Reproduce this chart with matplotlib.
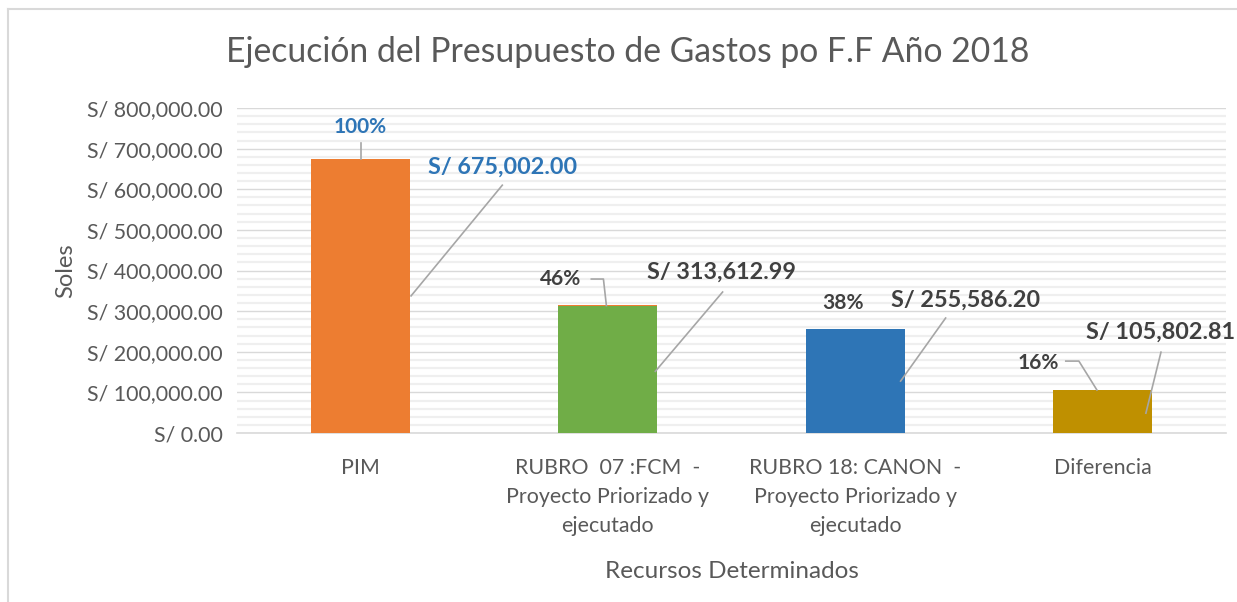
import numpy as np
import matplotlib.pyplot as plt
from matplotlib.ticker import FuncFormatter, MultipleLocator
from matplotlib.lines import Line2D

plt.rcParams['font.family'] = ['Lato', 'DejaVu Sans']

categories = ['PIM',
              'RUBRO  07 :FCM  -\nProyecto Priorizado y\nejecutado',
              'RUBRO 18: CANON  -\nProyecto Priorizado y\nejecutado',
              'Diferencia']
values = [675002.00, 313612.99, 255586.20, 105802.81]
percents = ['100%', '46%', '38%', '16%']
bar_colors = ['#ED7D31', '#70AD47', '#2E75B6', '#BF9000']

W, H = 1237, 602
fig = plt.figure(figsize=(W / 100, H / 100), dpi=100)
ax = fig.add_axes([237 / W, 1 - 433 / H, (1226 - 237) / W, (433 - 108) / H])

x = np.arange(len(categories))
ax.bar(x, values, width=0.4, color=bar_colors, zorder=3)
# thin orange series stacked on top (percent series)
ax.bar(x[1:3], [1200, 1200], bottom=values[1:3], width=0.4, color='#ED7D31', zorder=3)

ax.set_xlim(-0.5, len(categories) - 0.5)
ax.set_ylim(0, 800000)
ax.yaxis.set_major_locator(MultipleLocator(100000))
ax.yaxis.set_minor_locator(MultipleLocator(20000))
ax.yaxis.set_major_formatter(FuncFormatter(lambda v, p: f'S/ {v:,.2f}'))
ax.grid(which='major', axis='y', color='#d9d9d9', lw=1.0, zorder=0)
ax.grid(which='minor', axis='y', color='#efefef', lw=1.6, zorder=0)
ax.set_axisbelow(True)
for s in ['top', 'right', 'left']:
    ax.spines[s].set_visible(False)
ax.spines['bottom'].set_color('#d9d9d9')
ax.spines['bottom'].set_linewidth(1.2)
ax.tick_params(axis='both', which='both', length=0, colors='#595959', labelsize=15.4)
ax.tick_params(axis='y', pad=10)
ax.tick_params(axis='x', pad=18)
ax.set_xticks(x)
ax.set_xticklabels(categories, linespacing=1.55)

ax.set_xlabel('Recursos Determinados', fontsize=17.5, color='#595959', labelpad=18)
ax.set_ylabel('Soles', fontsize=17, color='#595959', labelpad=8)
fig.text(628 / W, 1 - 52 / H, 'Ejecución del Presupuesto de Gastos po F.F Año 2018',
         ha='center', va='center', fontsize=24.3, color='#595959')

# data labels: offsets from bar centre (x) and absolute y, in data coords
pct_pos = [(0.0, 753000), (-0.19, 379000), (-0.05, 320000), (-0.26, 172000)]
val_pos = [(0.573, 655000), (0.46, 396000), (0.447, 327000), (0.237, 249000)]
lbl_color = ['#2E75B6', '#404040', '#404040', '#404040']
for i, v in enumerate(values):
    px, py = pct_pos[i]
    ax.text(i + px, py, percents[i], ha='center', va='center', fontsize=15,
            fontweight='bold', color=lbl_color[i], zorder=5)
    vx, vy = val_pos[i]
    ax.text(i + vx, vy, f'S/ {v:,.2f}', ha='center', va='center', fontsize=16.8,
            fontweight='bold', color=lbl_color[i], zorder=5, clip_on=False)

lc = '#a6a6a6'
# leader lines for percent labels
ax.add_line(Line2D([0, 0], [714000, values[0]], color=lc, lw=1.2, zorder=4))
ax.add_line(Line2D([1 - 0.067, 1 - 0.018, 1 - 0.006], [379000, 379000, values[1]],
                   color=lc, lw=1.2, zorder=4))
ax.add_line(Line2D([3 - 0.148, 3 - 0.095, 3 - 0.022], [177000, 177000, values[3]],
                   color=lc, lw=1.2, zorder=4))
# leader lines for value labels
ax.add_line(Line2D([0.573, 0.204], [610000, values[0] / 2], color=lc, lw=1.2, zorder=4))
ax.add_line(Line2D([1.464, 1.192], [347000, values[1] / 2 - 5000], color=lc, lw=1.2, zorder=4))
ax.add_line(Line2D([2.366, 2.184], [283000, values[2] / 2], color=lc, lw=1.2, zorder=4))
ax.add_line(Line2D([3.237, 3.176], [199000, values[3] / 2 - 4000], color=lc, lw=1.2, zorder=4))

# chart frame
fig.add_artist(Line2D([8 / W, 8 / W], [0, 1 - 9 / H], color='#d9d9d9', lw=1.5))
fig.add_artist(Line2D([8 / W, 1], [1 - 9 / H, 1 - 9 / H], color='#d9d9d9', lw=1.5))

fig.savefig('out.png', dpi=100)
